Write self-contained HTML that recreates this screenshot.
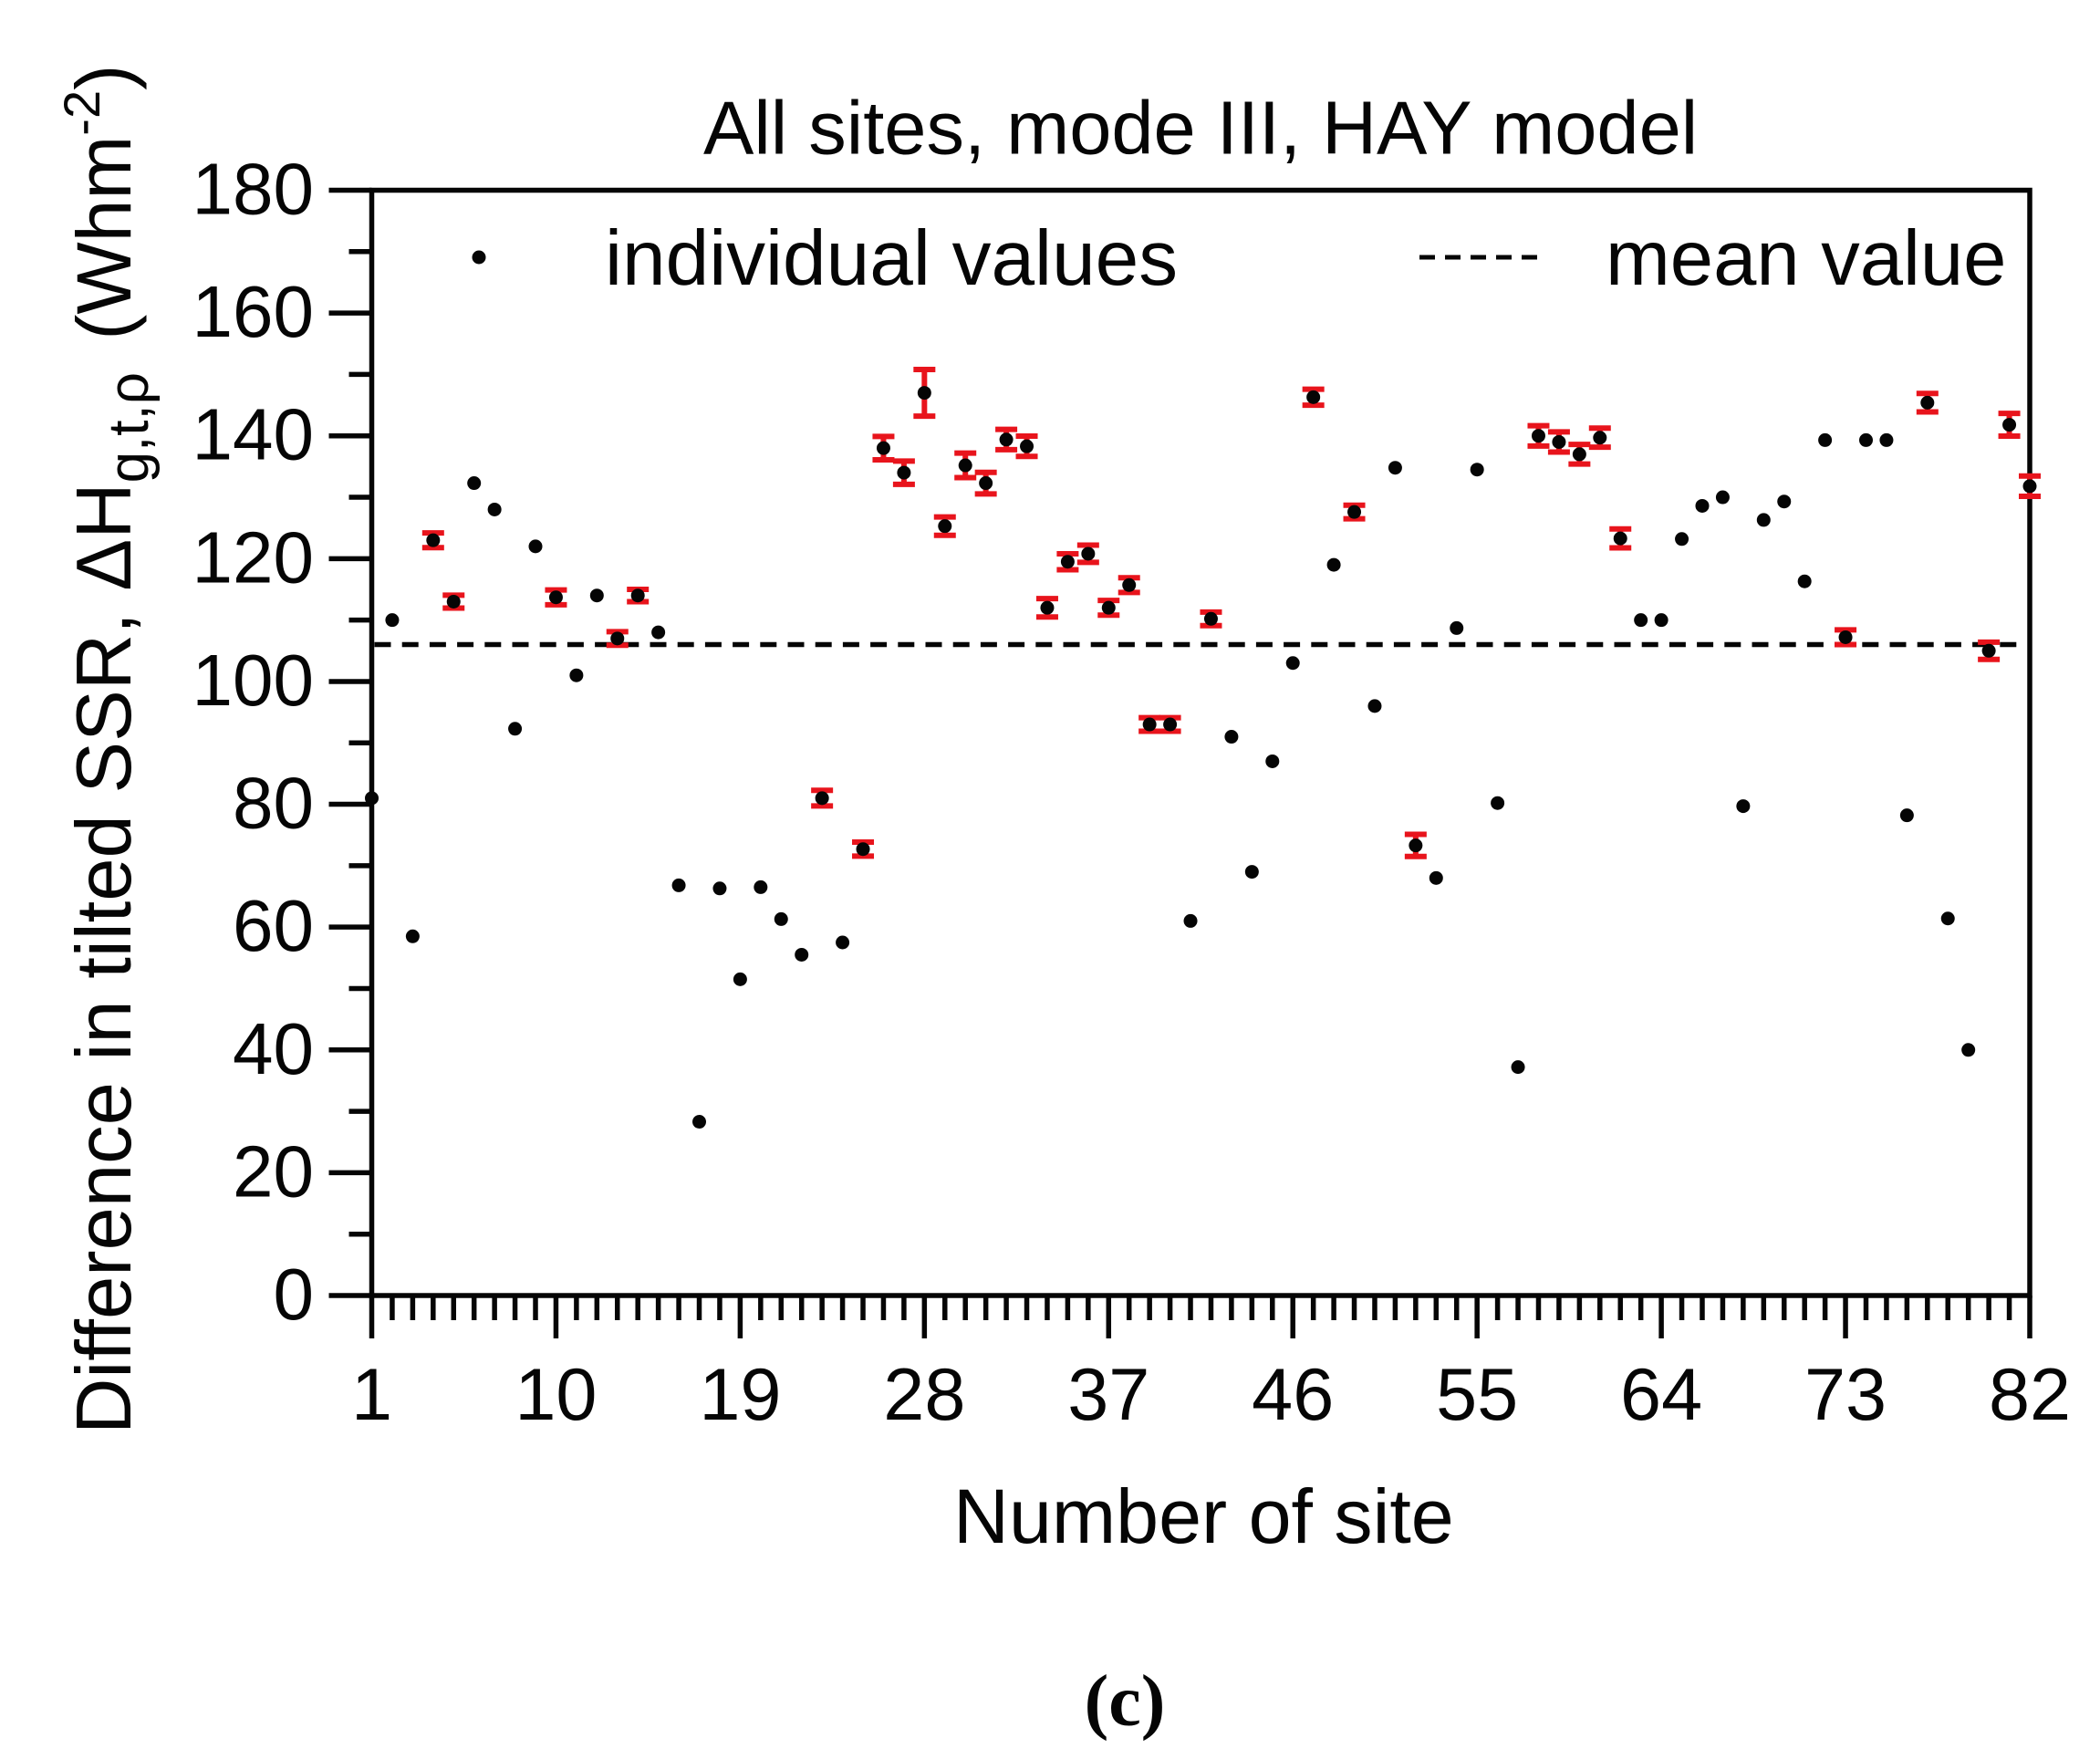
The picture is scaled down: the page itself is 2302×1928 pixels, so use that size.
<!DOCTYPE html>
<html lang="en">
<head>
<meta charset="utf-8">
<title>All sites, mode III, HAY model</title>
<style>
html,body{margin:0;padding:0;background:#fff;}
svg{display:block;}
text{font-family:"Liberation Sans",Arial,sans-serif;fill:#050505;}
</style>
</head>
<body>
<svg id="chart" xmlns="http://www.w3.org/2000/svg" width="2302" height="1928" viewBox="0 0 2302 1928">
  <rect x="0" y="0" width="2302" height="1928" fill="#ffffff"/>
  <text x="771" y="168.5" font-size="83">All sites, mode III, HAY model</text>
  <text transform="translate(143,1572) rotate(-90)" font-size="85" xml:space="preserve">Difference in tilted SSR, ΔH<tspan font-size="62" dy="19">g,t,ρ</tspan><tspan font-size="84" dy="-19" dx="12"> (Whm</tspan><tspan font-size="56" dy="-34">-2</tspan><tspan dy="34">)</tspan></text>
  <text x="1045" y="1691" font-size="84.4">Number of site</text>
  <text x="1233" y="1891" font-size="80" font-weight="bold" text-anchor="middle" style="font-family:'Liberation Serif',serif">(c)</text>
  <g id="axes"></g>
  <g id="mean-layer"></g>
  <g id="errors"></g>
  <g id="points"></g>
  <g id="legend">
    <circle cx="525" cy="282" r="7.5" fill="#050505"/>
    <text x="663" y="312" font-size="85.6">individual values</text>
    <line x1="1556" y1="282" x2="1688" y2="282" stroke="#050505" stroke-width="5" stroke-dasharray="17 11"/>
    <text x="1760" y="312" font-size="85">mean value</text>
  </g>
</svg>
<script>
const siteValues = [81,110,58.5,123,113,132.3,128,92.3,122,113.7,101,114,107,114,108,66.8,28.3,66.3,51.5,66.5,61.3,55.5,81,57.5,72.7,138,134,147,125.3,135.2,132.3,139.4,138.3,112,119.5,120.8,112,115.7,93,93,61,110.2,91,69,87,103,146.3,119,127.6,96,134.8,73.3,68,108.7,134.5,80.2,37.2,140,139,137,139.7,123.3,110,110,123.2,128.6,130,79.7,126.3,129.3,116.3,139.3,107.2,139.3,139.3,78.2,145.4,61.4,40,105,141.8,131.8];
const siteErrors = [0,0,0,1.2,1.05,0,0,0,0,1.2,0,0,1.1,1,0,0,0,0,0,0,0,0,1.27,0,1.15,1.9,1.9,3.8,1.5,2,1.75,1.65,1.65,1.5,1.3,1.4,1.2,1.2,1.1,1.1,0,1.1,0,0,0,0,1.3,0,1.1,0,0,1.8,0,0,0,0,0,1.65,1.65,1.6,1.55,1.55,0,0,0,0,0,0,0,0,0,0,1.2,0,0,0,1.5,0,0,1.4,1.85,1.65];
const meanValue = [106];
const yMajorTicks = [0,20,40,60,80,100,120,140,160,180];
const yMinorTicks = [10,30,50,70,90,110,130,150,170];
const xMajorTicks = [1,10,19,28,37,46,55,64,73,82];

const NS = 'http://www.w3.org/2000/svg';
const INK = '#050505';
const RED = '#e8141c';
const plot = {left: 407.5, right: 2225, top: 208.5, bottom: 1420};
function xScale(site) { return plot.left + (site - 1) * (plot.right - plot.left) / 81; }
function yScale(value) { return plot.bottom - value * (plot.bottom - plot.top) / 180; }
function make(tag, parent, attrs) {
  const el = document.createElementNS(NS, tag);
  Object.keys(attrs).forEach(function (k) { el.setAttribute(k, attrs[k]); });
  parent.appendChild(el);
  return el;
}
const axes = document.getElementById('axes');
const frame = make('rect', axes, {x: plot.left, y: plot.top, width: plot.right - plot.left, height: plot.bottom - plot.top, fill: 'none', stroke: INK, 'stroke-width': 5.5});



yMajorTicks.forEach(function (v) {
  const t = make('line', axes, {x1: plot.left - 47, x2: plot.left, y1: yScale(v), y2: yScale(v), stroke: INK, 'stroke-width': 5.5});
  
  
  const l = make('text', axes, {x: 344, y: yScale(v) + 26, 'font-size': 80, 'text-anchor': 'end'});
  
  
  l.textContent = v;
});
yMinorTicks.forEach(function (v) {
  const t = make('line', axes, {x1: plot.left - 25, x2: plot.left, y1: yScale(v), y2: yScale(v), stroke: INK, 'stroke-width': 5.5});
  
  
});
siteValues.forEach(function (_, i) {
  const site = i + 1;
  const major = xMajorTicks.indexOf(site) >= 0;
  const t = make('line', axes, {x1: xScale(site), x2: xScale(site), y1: plot.bottom, y2: plot.bottom + (major ? 47 : 27), stroke: INK, 'stroke-width': 5.5});
  
  
});
xMajorTicks.forEach(function (site) {
  const l = make('text', axes, {x: xScale(site), y: 1556, 'font-size': 81, 'text-anchor': 'middle'});
  
  
  l.textContent = site;
});

const meanLine = make('line', document.getElementById('mean-layer'), {x1: plot.left + 3, x2: xScale(81.4), y1: yScale(meanValue[0]), y2: yScale(meanValue[0]), stroke: INK, 'stroke-width': 5.5, 'stroke-dasharray': '18 12.2'});



const errorLayer = document.getElementById('errors');
const pointLayer = document.getElementById('points');
siteValues.forEach(function (v, i) {
  const site = i + 1;
  const cx = xScale(site);
  const err = siteErrors[i];
  if (err > 0) {
    const bar = make('path', errorLayer, {
      d: 'M' + (cx - 12) + ' ' + yScale(v + err) + 'H' + (cx + 12) +
         'M' + cx + ' ' + yScale(v + err) + 'V' + yScale(v - err) +
         'M' + (cx - 12) + ' ' + yScale(v - err) + 'H' + (cx + 12),
      fill: 'none', stroke: RED, 'stroke-width': 6
    });
    
    
  }
  const dot = make('circle', pointLayer, {cx: cx, cy: yScale(v), r: 7.5, fill: INK});
  
  
});
</script>
</body>
</html>
